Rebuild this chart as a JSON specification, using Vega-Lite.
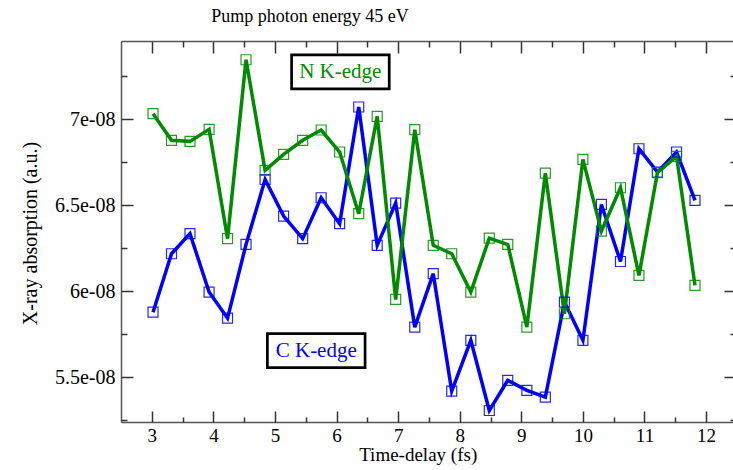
{
  "$schema": "https://vega.github.io/schema/vega-lite/v6.json",
  "width": 612,
  "height": 381,
  "autosize": {"type": "none"},
  "padding": {"left": 121, "top": 41, "right": 0, "bottom": 48},
  "background": "white",
  "title": {"text": "Pump photon energy 45 eV", "font": "Liberation Serif", "fontSize": 18, "fontWeight": "normal", "color": "black", "anchor": "middle", "frame": "group", "dx": -117, "offset": 0, "baseline": "alphabetic"},
  "datasets": {
    "series": [
      {"t": 3.02, "absorption": 5.878e-8, "edge": "C K-edge"},
      {"t": 3.32, "absorption": 6.218e-8, "edge": "C K-edge"},
      {"t": 3.62, "absorption": 6.335e-8, "edge": "C K-edge"},
      {"t": 3.93, "absorption": 5.995e-8, "edge": "C K-edge"},
      {"t": 4.23, "absorption": 5.843e-8, "edge": "C K-edge"},
      {"t": 4.53, "absorption": 6.272e-8, "edge": "C K-edge"},
      {"t": 4.84, "absorption": 6.650e-8, "edge": "C K-edge"},
      {"t": 5.14, "absorption": 6.437e-8, "edge": "C K-edge"},
      {"t": 5.45, "absorption": 6.306e-8, "edge": "C K-edge"},
      {"t": 5.75, "absorption": 6.544e-8, "edge": "C K-edge"},
      {"t": 6.05, "absorption": 6.393e-8, "edge": "C K-edge"},
      {"t": 6.36, "absorption": 7.072e-8, "edge": "C K-edge"},
      {"t": 6.66, "absorption": 6.267e-8, "edge": "C K-edge"},
      {"t": 6.96, "absorption": 6.513e-8, "edge": "C K-edge"},
      {"t": 7.27, "absorption": 5.791e-8, "edge": "C K-edge"},
      {"t": 7.57, "absorption": 6.102e-8, "edge": "C K-edge"},
      {"t": 7.87, "absorption": 5.419e-8, "edge": "C K-edge"},
      {"t": 8.18, "absorption": 5.714e-8, "edge": "C K-edge"},
      {"t": 8.48, "absorption": 5.306e-8, "edge": "C K-edge"},
      {"t": 8.78, "absorption": 5.481e-8, "edge": "C K-edge"},
      {"t": 9.09, "absorption": 5.423e-8, "edge": "C K-edge"},
      {"t": 9.39, "absorption": 5.384e-8, "edge": "C K-edge"},
      {"t": 9.70, "absorption": 5.937e-8, "edge": "C K-edge"},
      {"t": 10.00, "absorption": 5.714e-8, "edge": "C K-edge"},
      {"t": 10.30, "absorption": 6.505e-8, "edge": "C K-edge"},
      {"t": 10.61, "absorption": 6.173e-8, "edge": "C K-edge"},
      {"t": 10.91, "absorption": 6.829e-8, "edge": "C K-edge"},
      {"t": 11.21, "absorption": 6.693e-8, "edge": "C K-edge"},
      {"t": 11.52, "absorption": 6.810e-8, "edge": "C K-edge"},
      {"t": 11.82, "absorption": 6.529e-8, "edge": "C K-edge"},
      {"t": 3.02, "absorption": 7.033e-8, "edge": "N K-edge"},
      {"t": 3.32, "absorption": 6.878e-8, "edge": "N K-edge"},
      {"t": 3.62, "absorption": 6.872e-8, "edge": "N K-edge"},
      {"t": 3.93, "absorption": 6.942e-8, "edge": "N K-edge"},
      {"t": 4.23, "absorption": 6.306e-8, "edge": "N K-edge"},
      {"t": 4.53, "absorption": 7.347e-8, "edge": "N K-edge"},
      {"t": 4.84, "absorption": 6.703e-8, "edge": "N K-edge"},
      {"t": 5.14, "absorption": 6.796e-8, "edge": "N K-edge"},
      {"t": 5.45, "absorption": 6.878e-8, "edge": "N K-edge"},
      {"t": 5.75, "absorption": 6.938e-8, "edge": "N K-edge"},
      {"t": 6.05, "absorption": 6.810e-8, "edge": "N K-edge"},
      {"t": 6.36, "absorption": 6.451e-8, "edge": "N K-edge"},
      {"t": 6.66, "absorption": 7.017e-8, "edge": "N K-edge"},
      {"t": 6.96, "absorption": 5.952e-8, "edge": "N K-edge"},
      {"t": 7.27, "absorption": 6.940e-8, "edge": "N K-edge"},
      {"t": 7.57, "absorption": 6.267e-8, "edge": "N K-edge"},
      {"t": 7.87, "absorption": 6.218e-8, "edge": "N K-edge"},
      {"t": 8.18, "absorption": 5.995e-8, "edge": "N K-edge"},
      {"t": 8.48, "absorption": 6.309e-8, "edge": "N K-edge"},
      {"t": 8.78, "absorption": 6.272e-8, "edge": "N K-edge"},
      {"t": 9.09, "absorption": 5.791e-8, "edge": "N K-edge"},
      {"t": 9.39, "absorption": 6.687e-8, "edge": "N K-edge"},
      {"t": 9.70, "absorption": 5.869e-8, "edge": "N K-edge"},
      {"t": 10.00, "absorption": 6.767e-8, "edge": "N K-edge"},
      {"t": 10.30, "absorption": 6.350e-8, "edge": "N K-edge"},
      {"t": 10.61, "absorption": 6.602e-8, "edge": "N K-edge"},
      {"t": 10.91, "absorption": 6.092e-8, "edge": "N K-edge"},
      {"t": 11.21, "absorption": 6.690e-8, "edge": "N K-edge"},
      {"t": 11.52, "absorption": 6.785e-8, "edge": "N K-edge"},
      {"t": 11.82, "absorption": 6.034e-8, "edge": "N K-edge"}
    ],
    "labels": [
      {"edge": "N K-edge", "x": 6.06, "y": 7.276e-8, "x0": 5.27, "x1": 6.855, "y0": 7.178e-8, "y1": 7.375e-8},
      {"edge": "C K-edge", "x": 5.67, "y": 5.654e-8, "x0": 4.877, "x1": 6.463, "y0": 5.555e-8, "y1": 5.753e-8}
    ]
  },
  "resolve": {"axis": {"x": "independent", "y": "independent"}},
  "layer": [
    {
      "data": {"name": "series"},
      "transform": [{"filter": "datum.edge === 'C K-edge'"}],
      "mark": {"type": "line", "color": "#0000ff", "strokeWidth": 3.5},
      "encoding": {
        "x": {"field": "t", "type": "quantitative",
          "scale": {"domain": [2.5, 12.437], "nice": false, "zero": false},
          "axis": {"orient": "bottom", "values": [3, 4, 5, 6, 7, 8, 9, 10, 11, 12], "ticks": false, "domain": true, "labelBaseline": "alphabetic", "labelFontSize": 19, "labelPadding": 19.5, "labelFlush": false, "labelOverlap": false,
            "title": "Time-delay (fs)", "titleFontSize": 19, "titleX": 296.7, "titleY": 38.5, "titleBaseline": "alphabetic", "titleAlign": "center", "titleAnchor": null}},
        "y": {"field": "absorption", "type": "quantitative",
          "scale": {"domain": [5.239e-8, 7.456e-8], "nice": false, "zero": false},
          "axis": {"orient": "left", "values": [5.5e-8, 6e-8, 6.5e-8, 7e-8], "ticks": false, "domain": true, "labelPadding": 6, "labelFlush": false, "labelOverlap": false,
            "labelExpr": "format(datum.value * 1e8, '.2~g') + 'e-08'",
            "title": "X-ray absorption (a.u.)", "titleAngle": 270, "titleX": -85, "titleY": 192, "titleBaseline": "alphabetic", "titleAlign": "center", "titleAnchor": null}}
      }
    },
    {
      "data": {"name": "series"},
      "transform": [{"filter": "datum.edge === 'N K-edge'"}],
      "mark": {"type": "line", "color": "#008b00", "strokeWidth": 3.5},
      "encoding": {
        "x": {"field": "t", "type": "quantitative",
          "scale": {"domain": [2.5, 12.437], "nice": false, "zero": false},
          "axis": {"orient": "bottom", "values": [3, 4, 5, 6, 7, 8, 9, 10, 11, 12], "labels": false, "domain": false, "tickSize": -11, "title": null}},
        "y": {"field": "absorption", "type": "quantitative",
          "scale": {"domain": [5.239e-8, 7.456e-8], "nice": false, "zero": false},
          "axis": {"orient": "left", "values": [5.5e-8, 6e-8, 6.5e-8, 7e-8], "labels": false, "domain": false, "tickSize": -12, "title": null}}
      }
    },
    {
      "data": {"name": "series"},
      "mark": {"type": "point", "shape": "square", "size": 100, "filled": false, "strokeWidth": 1.2, "opacity": 0.85},
      "encoding": {
        "x": {"field": "t", "type": "quantitative",
          "scale": {"domain": [2.5, 12.437], "nice": false, "zero": false},
          "axis": {"orient": "bottom", "values": [3.5, 4.5, 5.5, 6.5, 7.5, 8.5, 9.5, 10.5, 11.5], "labels": false, "domain": false, "tickSize": -5, "title": null}},
        "y": {"field": "absorption", "type": "quantitative",
          "scale": {"domain": [5.239e-8, 7.456e-8], "nice": false, "zero": false},
          "axis": {"orient": "left", "values": [5.25e-8, 5.75e-8, 6.25e-8, 6.75e-8, 7.25e-8], "labels": false, "domain": false, "tickSize": -6, "title": null}},
        "color": {"field": "edge", "type": "nominal", "scale": {"domain": ["C K-edge", "N K-edge"], "range": ["#0000ff", "#008b00"]}, "legend": null}
      }
    },
    {
      "data": {"name": "labels"},
      "mark": {"type": "rect", "fill": "white", "stroke": "black", "strokeWidth": 2.7},
      "encoding": {
        "x": {"field": "x0", "type": "quantitative",
          "scale": {"domain": [2.5, 12.437], "nice": false, "zero": false},
          "axis": {"orient": "top", "values": [3, 4, 5, 6, 7, 8, 9, 10, 11, 12], "labels": false, "domain": true, "tickSize": -12, "title": null}},
        "x2": {"field": "x1"},
        "y": {"field": "y0", "type": "quantitative",
          "scale": {"domain": [5.239e-8, 7.456e-8], "nice": false, "zero": false},
          "axis": {"orient": "right", "values": [5.5e-8, 6e-8, 6.5e-8, 7e-8], "labels": false, "domain": false, "tickSize": -9, "title": null}},
        "y2": {"field": "y1"}
      }
    },
    {
      "data": {"name": "labels"},
      "mark": {"type": "text", "font": "Liberation Serif", "fontSize": 21, "align": "center", "baseline": "middle"},
      "encoding": {
        "x": {"field": "x", "type": "quantitative",
          "scale": {"domain": [2.5, 12.437], "nice": false, "zero": false},
          "axis": {"orient": "top", "values": [3.5, 4.5, 5.5, 6.5, 7.5, 8.5, 9.5, 10.5, 11.5], "labels": false, "domain": false, "tickSize": -6, "title": null}},
        "y": {"field": "y", "type": "quantitative",
          "scale": {"domain": [5.239e-8, 7.456e-8], "nice": false, "zero": false},
          "axis": {"orient": "right", "values": [5.25e-8, 5.75e-8, 6.25e-8, 6.75e-8, 7.25e-8], "labels": false, "domain": false, "tickSize": -3, "title": null}},
        "text": {"field": "edge", "type": "nominal"},
        "color": {"field": "edge", "type": "nominal", "scale": {"domain": ["C K-edge", "N K-edge"], "range": ["#0000ff", "#008b00"]}, "legend": null}
      }
    }
  ],
  "config": {
    "view": {"stroke": null},
    "axis": {"labelFont": "Liberation Serif", "titleFont": "Liberation Serif", "labelFontSize": 20, "titleFontSize": 20, "titleFontWeight": "normal", "labelColor": "black", "titleColor": "black", "grid": false, "domainColor": "#555555", "domainWidth": 1.5, "tickColor": "#333333", "tickWidth": 1.5}
  }
}
